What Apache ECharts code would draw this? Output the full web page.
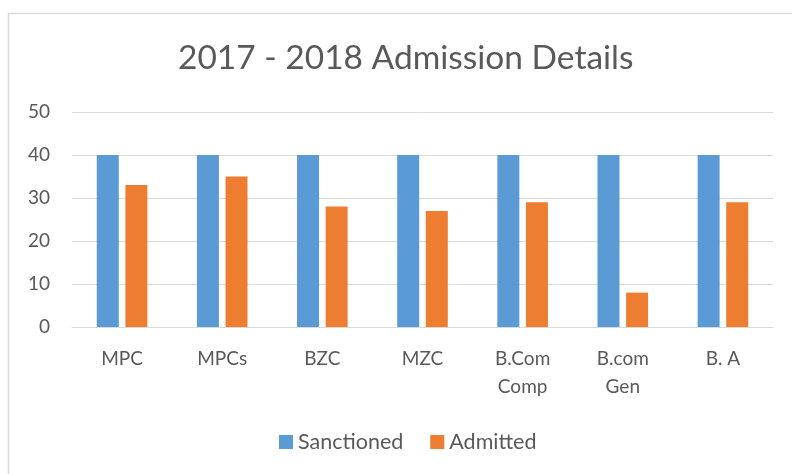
<!DOCTYPE html>
<html>
<head>
<meta charset="utf-8">
<script src="https://cdn.jsdelivr.net/npm/echarts@6/dist/echarts.min.js"></script>
<style>
html,body{margin:0;padding:0;background:#fff;}
#chart{width:792px;height:474px;}
</style>
</head>
<body>
<div id="chart"></div>
<script>
const titleText = "2017 - 2018 Admission Details";
const categories = ["MPC", "MPCs", "BZC", "MZC", "B.Com\nComp", "B.com\nGen", "B. A"];
const sanctioned = [40, 40, 40, 40, 40, 40, 40];
const admitted = [33, 35, 28, 27, 29, 8, 29];
const yTicks = [0, 10, 20, 30, 40, 50];

const FONT = "Lato";
const chart = echarts.init(document.getElementById('chart'), null, {renderer: 'canvas'});
chart.setOption({
  backgroundColor: '#ffffff',
  animation: false,
  graphic: [{
    type: 'rect',
    shape: {x: 8.5, y: 13.5, width: 800, height: 480},
    style: {fill: 'none', stroke: '#d9d9d9', lineWidth: 1.5},
    silent: true
  }],
  title: {
    text: titleText,
    left: 173,
    top: 36,
    textStyle: {fontFamily: FONT, fontSize: 33.5, fontWeight: 'normal', color: '#595959'}
  },
  legend: {
    bottom: 16,
    left: 274,
    itemWidth: 14,
    itemHeight: 14,
    itemGap: 27,
    icon: 'rect',
    textStyle: {fontFamily: FONT, fontSize: 21.5, color: '#595959'},
    data: ['Sanctioned', 'Admitted']
  },
  grid: {left: 72, right: 19, top: 112, bottom: 147, containLabel: false},
  xAxis: {
    type: 'category',
    data: categories,
    axisLine: {lineStyle: {color: '#d9d9d9', width: 1}},
    axisTick: {show: false},
    axisLabel: {fontFamily: FONT, fontSize: 19, color: '#595959', margin: 18, lineHeight: 28, interval: 0}
  },
  yAxis: {
    type: 'value',
    min: yTicks[0],
    max: yTicks[yTicks.length - 1],
    interval: 10,
    axisLine: {show: false},
    axisTick: {show: false},
    splitLine: {lineStyle: {color: '#d9d9d9', width: 1}},
    axisLabel: {fontFamily: FONT, fontSize: 19, color: '#595959', margin: 22}
  },
  series: [
    {
      name: 'Sanctioned',
      type: 'bar',
      data: sanctioned,
      barWidth: 22,
      barGap: '30%',
      itemStyle: {color: '#5b9bd5'}
    },
    {
      name: 'Admitted',
      type: 'bar',
      data: admitted,
      barWidth: 22,
      barGap: '30%',
      itemStyle: {color: '#ed7d31'}
    }
  ]
});
</script>
</body>
</html>
